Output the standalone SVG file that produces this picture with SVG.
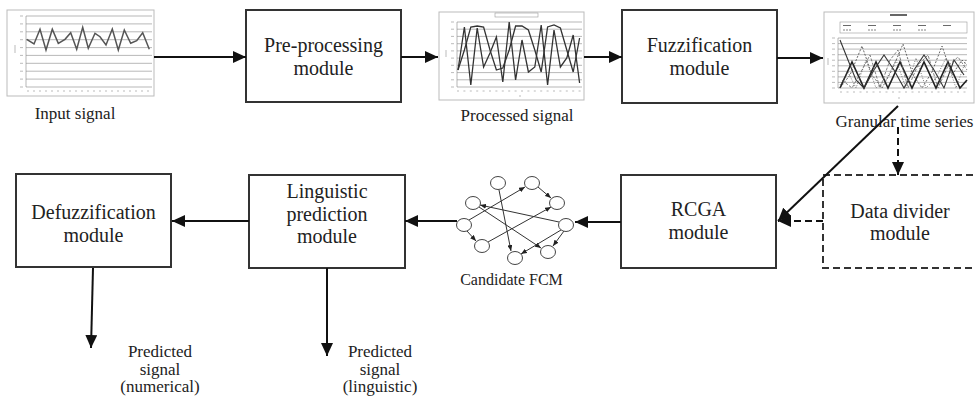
<svg xmlns="http://www.w3.org/2000/svg" width="975" height="398" viewBox="0 0 975 398">
<defs>
<marker id="ah" markerWidth="13" markerHeight="12" refX="13" refY="6" orient="auto" markerUnits="userSpaceOnUse"><path d="M0,0 L13,6 L0,12 z" fill="#111"/></marker>
<marker id="ahs" markerWidth="6" markerHeight="5" refX="6" refY="2.5" orient="auto" markerUnits="userSpaceOnUse"><path d="M0,0 L6,2.5 L0,5 z" fill="#222"/></marker>
<style>
.box{fill:#fff;stroke:#333;stroke-width:2}
.dbox{fill:none;stroke:#333;stroke-width:2;stroke-dasharray:7 4}
.lbl{font-size:20px;fill:#222;text-anchor:middle}
.cap{font-size:17px;fill:#222;text-anchor:middle}
.conn{stroke:#111;stroke-width:2;fill:none}
.dconn{stroke:#111;stroke-width:2;fill:none;stroke-dasharray:7 4}
.frame{fill:#fff;stroke:#bbb;stroke-width:1}
.grid{stroke:#888;stroke-width:0.6;fill:none}
.tick{stroke:#aaa;stroke-width:0.8;fill:none}
.node{fill:#fff;stroke:#444;stroke-width:1}
.fe{stroke:#333;stroke-width:1;fill:none}
</style>
</defs>
<g font-family="'Liberation Serif', Tinos, 'Times New Roman', 'DejaVu Serif', serif">

<g id="input-signal">
<rect class="frame" x="7" y="10" width="147" height="86"/>
<path class="grid" d="M26,16H152M26,23.9H152M26,31.8H152M26,39.7H152M26,47.6H152M26,55.4H152M26,63.3H152M26,71.2H152M26,79.1H152M26,87H152M26,16V87"/>
<path class="tick" d="M20,16h3M20,23.9h3M20,31.8h3M20,39.7h3M20,47.6h3M20,55.4h3M20,63.3h3M20,71.2h3M20,79.1h3M20,87h3M15,45v8"/>
<path class="tick" d="M27,91h2M33,91h2M39,91h2M45,91h2M51,91h2M57,91h2M63,91h2M69,91h2M75,91h2M81,91h2M87,91h2M93,91h2M99,91h2M105,91h2M111,91h2M117,91h2M123,91h2M129,91h2M135,91h2M141,91h2M147,91h2"/>
<polyline fill="none" stroke="#555" stroke-width="1.5" points="26.7,39.3 34,44 40,29.3 46,50 52.3,29.3 58.3,43.3 65,39.3 70.7,32.7 76.7,49.3 82.7,27.3 88.3,48.3 95,33.3 100,36.7 106,45 112.3,29 118.3,50 124.3,30 130.7,43.3 136.7,40.7 142.7,32.7 149.3,49.3"/>
<text class="cap" x="75" y="119">Input signal</text>
</g>

<g id="preprocessing">
<rect class="box" x="246" y="10" width="155" height="92"/>
<text class="lbl" x="323.5" y="52">Pre-processing</text>
<text class="lbl" x="323.5" y="75">module</text>
</g>

<g id="processed-signal">
<rect class="frame" x="439" y="12" width="145" height="88"/>
<rect x="495" y="13" width="43" height="4" fill="#fff" stroke="#999" stroke-width="0.6"/>
<path class="grid" d="M457,22H582M457,29.2H582M457,36.4H582M457,43.7H582M457,50.9H582M457,58.1H582M457,65.3H582M457,72.6H582M457,79.8H582M457,87H582M457,22V87"/>
<path class="tick" d="M451,22h3M451,29.2h3M451,36.4h3M451,43.7h3M451,50.9h3M451,58.1h3M451,65.3h3M451,72.6h3M451,79.8h3M451,87h3M446,50v7"/>
<path class="tick" d="M457,91h2M463.4,91h2M469.8,91h2M476.2,91h2M482.6,91h2M489,91h2M495.4,91h2M501.8,91h2M508.2,91h2M514.6,91h2M521,91h2M527.4,91h2M533.8,91h2M540.2,91h2M546.6,91h2M553,91h2M559.4,91h2M565.8,91h2M572.2,91h2M578.6,91h2M519,96h2"/>
<polyline fill="none" stroke="#333" stroke-width="1.3" points="458,70 464.4,27 470.8,85 477.2,28 483.6,67 490,53 496.4,37 502.8,82 509.2,22 515.6,80 522,40 528.4,72 534.8,67 541.2,25 547.6,85 554,30 560.4,67 566.8,58 573.2,35 579.6,83"/>
<polyline fill="none" stroke="#333" stroke-width="1.3" points="458,70 464.4,50 470.8,27 477.2,26 483.6,27 490,50 496.4,70 502.8,68 509.2,50 515.6,26 522,26 528.4,30 534.8,50 541.2,72 547.6,27 554,25 560.4,28 566.8,50 573.2,72 579.6,38"/>
<text class="cap" x="517" y="121">Processed signal</text>
</g>

<g id="fuzzification">
<rect class="box" x="622" y="10" width="155" height="93"/>
<text class="lbl" x="699.5" y="52">Fuzzification</text>
<text class="lbl" x="699.5" y="75">module</text>
</g>

<g id="granular-time-series">
<rect class="frame" x="824" y="12" width="150" height="91"/>
<rect x="890" y="14" width="17" height="2" fill="#666"/>
<rect x="840" y="22" width="127" height="11" fill="#fff" stroke="#999" stroke-width="0.6"/>
<path stroke="#444" stroke-width="0.8" fill="none" d="M843,25.5h8M868,25.5h8M893,25.5h8M918,25.5h8M943,25.5h8"/>
<path stroke="#666" stroke-width="0.8" fill="none" stroke-dasharray="2 1" d="M843,30h8M868,30h8M893,30h8M918,30h8"/>
<path class="grid" d="M838,38H967M838,43.6H967M838,49.1H967M838,54.7H967M838,60.2H967M838,65.8H967M838,71.3H967M838,76.9H967M838,82.4H967M838,88H967M838,38V88"/>
<path class="tick" d="M832,38h3M832,43.6h3M832,49.1h3M832,54.7h3M832,60.2h3M832,65.8h3M832,71.3h3M832,76.9h3M832,82.4h3M832,88h3M828,58v7"/>
<path class="tick" d="M840,92h2M846.5,92h2M853,92h2M859.5,92h2M866,92h2M872.5,92h2M879,92h2M885.5,92h2M892,92h2M898.5,92h2M905,92h2M911.5,92h2M918,92h2M924.5,92h2M931,92h2M937.5,92h2M944,92h2M950.5,92h2M957,92h2M963.5,92h2M898,98h2"/>
<polyline fill="none" stroke="#222" stroke-width="1.6" points="840,88 852,62 864,88 876,62 888,88 900,62 912,88 924,62 936,88 948,62 960,88 967,80"/>
<polyline fill="none" stroke="#333" stroke-width="1.1" points="840,40 848,60 856,80 864,88 874,70 884,55 894,70 904,88 914,70 924,55 934,70 944,88 954,60 964,75"/>
<polyline fill="none" stroke="#444" stroke-width="0.8" stroke-dasharray="2 1.5" points="840,88 850,75 862,46 872,75 882,88 892,70 903,44 913,75 922,88 932,72 942,46 952,75 962,60 967,65"/>
<polyline fill="none" stroke="#666" stroke-width="0.8" stroke-dasharray="3 1.5" points="842,80 852,88 862,70 870,55 880,88 890,60 898,50 908,88 918,65 928,55 938,88 948,66 958,57 967,70"/>
<polyline fill="none" stroke="#555" stroke-width="0.8" stroke-dasharray="1 1.5" points="840,85 848,72 856,88 866,60 876,88 886,80 896,60 906,88 916,58 926,88 936,78 946,58 956,88 966,60"/>
<text class="cap" x="904.5" y="127">Granular time series</text>
</g>

<g id="data-divider">
<rect class="dbox" x="823" y="175" width="160" height="93"/>
<text class="lbl" x="900" y="218">Data divider</text>
<text class="lbl" x="900" y="240">module</text>
</g>

<g id="rcga">
<rect class="box" x="621" y="175" width="155" height="93"/>
<text class="lbl" x="698.5" y="216">RCGA</text>
<text class="lbl" x="698.5" y="238.5">module</text>
</g>

<g id="candidate-fcm">
<g class="fe">
<line x1="469" y1="220" x2="525" y2="187" marker-end="url(#ahs)"/>
<line x1="499" y1="190" x2="511" y2="251" marker-end="url(#ahs)"/>
<line x1="538" y1="187" x2="551" y2="198" marker-end="url(#ahs)"/>
<line x1="559" y1="222" x2="480" y2="205" marker-end="url(#ahs)"/>
<line x1="488" y1="242" x2="551" y2="207" marker-end="url(#ahs)"/>
<line x1="479" y1="207" x2="541" y2="248" marker-end="url(#ahs)"/>
<line x1="561" y1="230" x2="521" y2="254" marker-end="url(#ahs)"/>
<line x1="564" y1="231" x2="553" y2="246" marker-end="url(#ahs)"/>
<line x1="467" y1="231" x2="476" y2="241" marker-end="url(#ahs)"/>
</g>
<ellipse class="node" cx="498" cy="183" rx="7.5" ry="6.5"/>
<ellipse class="node" cx="532" cy="183" rx="7.5" ry="6.5"/>
<ellipse class="node" cx="557" cy="203" rx="7.5" ry="6.5"/>
<ellipse class="node" cx="473" cy="203" rx="7.5" ry="6.5"/>
<ellipse class="node" cx="464" cy="225" rx="7.5" ry="6.5"/>
<ellipse class="node" cx="566" cy="225" rx="7.5" ry="6.5"/>
<ellipse class="node" cx="482" cy="246" rx="7.5" ry="6.5"/>
<ellipse class="node" cx="515" cy="258" rx="7.5" ry="6.5"/>
<ellipse class="node" cx="548" cy="252" rx="7.5" ry="6.5"/>
<text class="cap" x="511.5" y="285" style="font-size:16px">Candidate FCM</text>
</g>

<g id="linguistic-prediction">
<rect class="box" x="249" y="175" width="156" height="93"/>
<text class="lbl" x="327" y="198">Linguistic</text>
<text class="lbl" x="327" y="220.5">prediction</text>
<text class="lbl" x="327" y="243">module</text>
</g>

<g id="defuzzification">
<rect class="box" x="16" y="174" width="155" height="93"/>
<text class="lbl" x="93.5" y="219">Defuzzification</text>
<text class="lbl" x="93.5" y="242">module</text>
</g>

<g id="output-numerical">
<text class="cap" x="160" y="357">Predicted</text>
<text class="cap" x="160" y="374.5">signal</text>
<text class="cap" x="160" y="392">(numerical)</text>
</g>

<g id="output-linguistic">
<text class="cap" x="380" y="357">Predicted</text>
<text class="cap" x="380" y="374.5">signal</text>
<text class="cap" x="380" y="392">(linguistic)</text>
</g>
</g>

<g id="connectors">
<line class="conn" x1="154" y1="57" x2="246" y2="57" marker-end="url(#ah)"/>
<line class="conn" x1="401" y1="57" x2="438" y2="57" marker-end="url(#ah)"/>
<line class="conn" x1="584" y1="57" x2="622" y2="57" marker-end="url(#ah)"/>
<line class="conn" x1="777" y1="58" x2="823" y2="58" marker-end="url(#ah)"/>
<line class="conn" x1="898" y1="106" x2="778" y2="221" marker-end="url(#ah)"/>
<line class="dconn" x1="898" y1="127" x2="898" y2="175" marker-end="url(#ah)"/>
<line class="dconn" x1="823" y1="221" x2="778" y2="221" marker-end="url(#ah)"/>
<line class="conn" x1="621" y1="222" x2="575" y2="222" marker-end="url(#ah)"/>
<line class="conn" x1="457" y1="221" x2="405" y2="221" marker-end="url(#ah)"/>
<line class="conn" x1="249" y1="221" x2="172" y2="221" marker-end="url(#ah)"/>
<line class="conn" x1="93" y1="268" x2="91" y2="348" marker-end="url(#ah)"/>
<line class="conn" x1="327" y1="268" x2="327" y2="356" marker-end="url(#ah)"/>
</g>
</svg>
